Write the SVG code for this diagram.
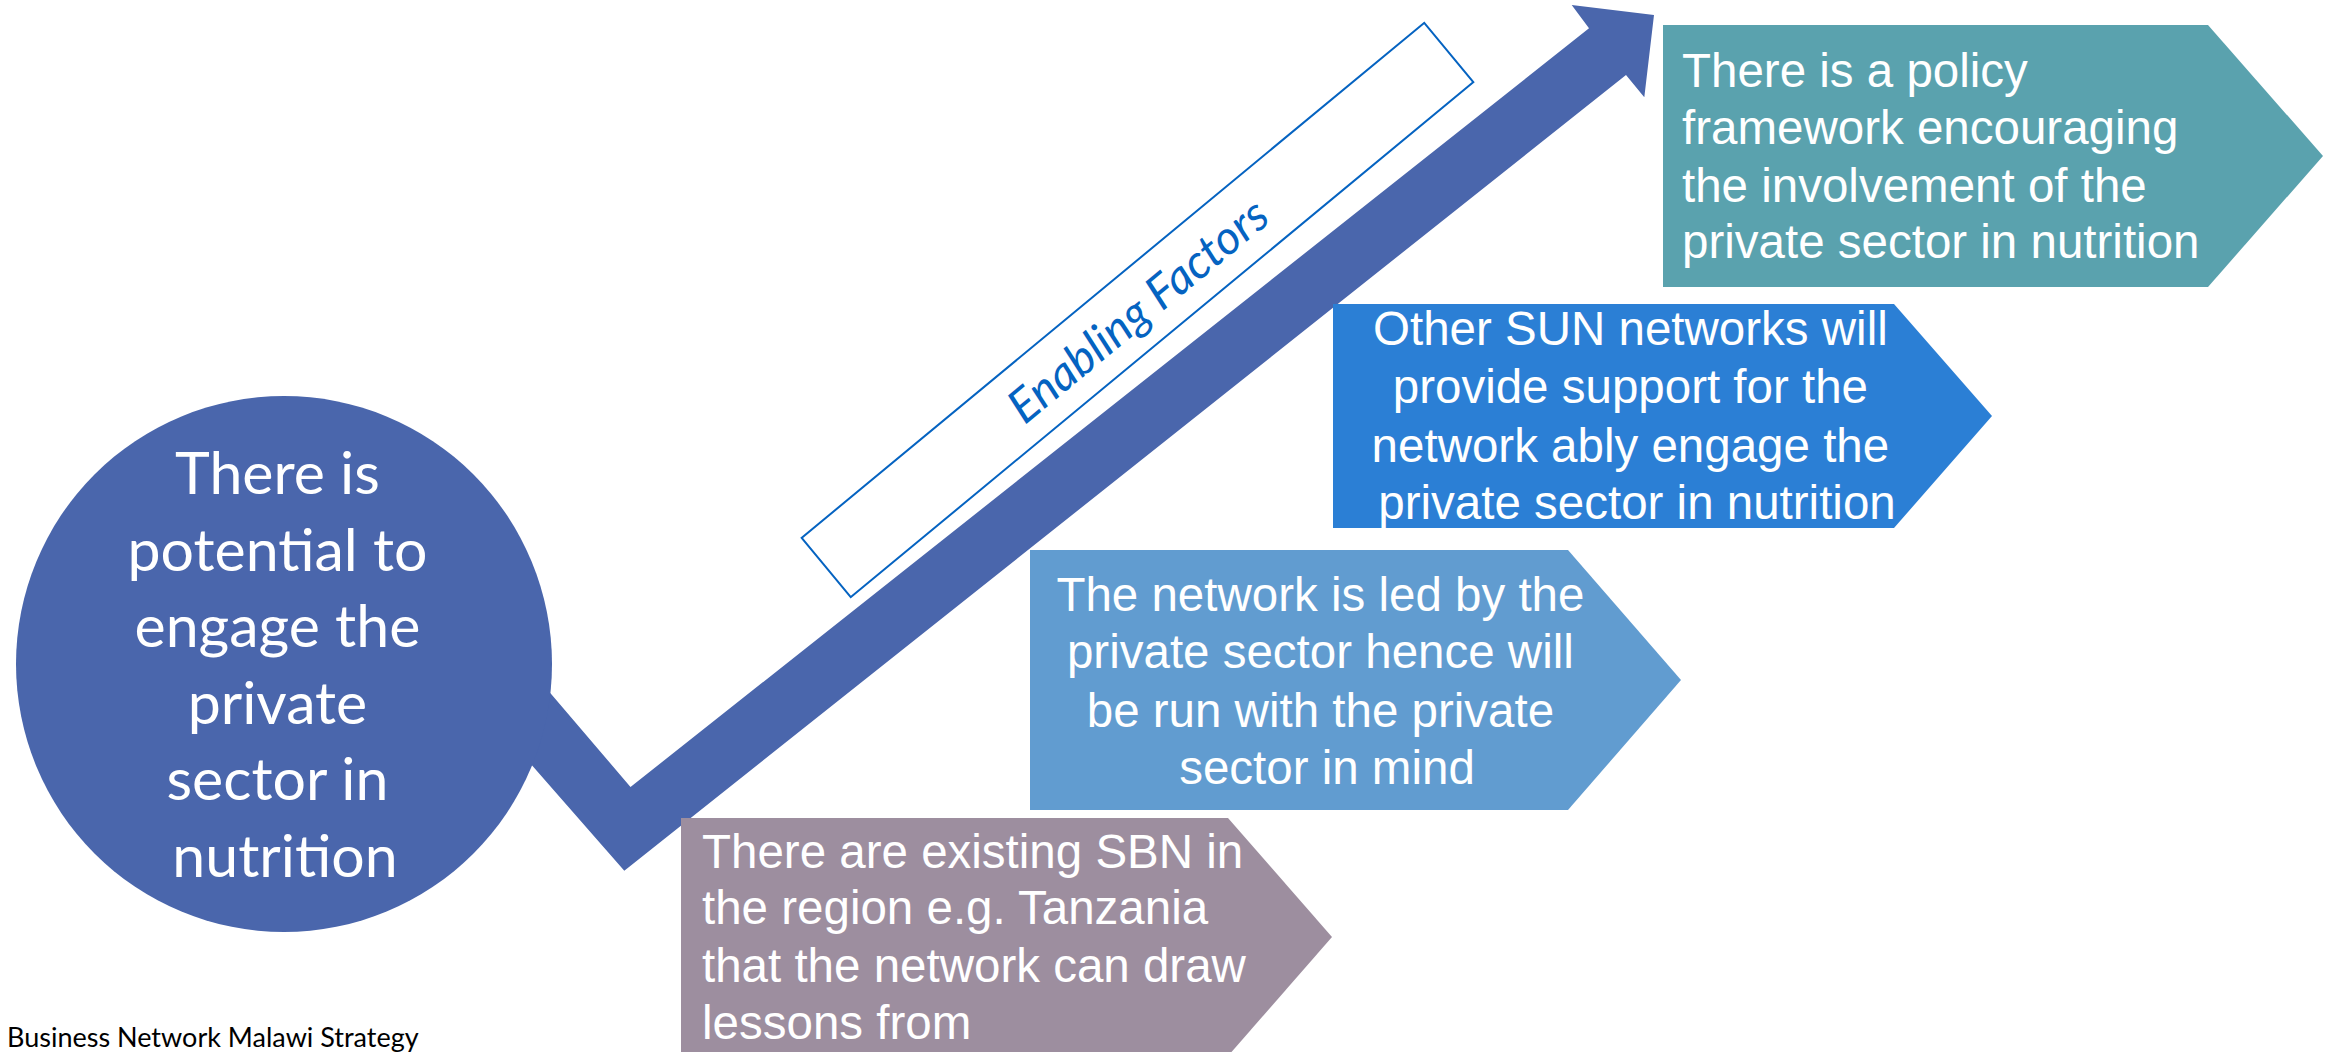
<svg xmlns="http://www.w3.org/2000/svg" width="2331" height="1052" viewBox="0 0 2331 1052">
  <style>
    .box-text { font-family: "Liberation Sans", Arial, sans-serif; font-size: 47.5px; fill: #ffffff; }
    .mid { text-anchor: middle; }
    .circle-text { font-family: Lato, "Noto Sans", sans-serif; font-size: 59px; fill: #ffffff; text-anchor: middle; }
    .label { font-family: Lato, "Noto Sans", sans-serif; font-style: italic; font-size: 47px; fill: #0563C1; text-anchor: middle; }
    .footer { font-family: Lato, "Noto Sans", sans-serif; font-size: 27px; fill: #000000; }
  </style>
  <rect width="2331" height="1052" fill="#ffffff"/>

  <g id="connectors">
    <polygon id="zigzag-arrow" fill="#4A66AC"
      points="500,634 630.5,787 1589,28.3 1571.7,5 1654,15 1644.3,97.3 1626,75 624.3,870.7 480,706"/>
  </g>

  <g id="node-potential">
    <circle cx="284" cy="664" r="268" fill="#4A66AC"/>
    <text class="circle-text">
      <tspan x="285" y="494">There is</tspan>
      <tspan x="285" y="570.6">potential to</tspan>
      <tspan x="285" y="647.2">engage the</tspan>
      <tspan x="285" y="723.8">private</tspan>
      <tspan x="285" y="800.4">sector in</tspan>
      <tspan x="285" y="877">nutrition</tspan>
    </text>
  </g>

  <g id="node-enabling-factors" transform="translate(1137.5,310) rotate(-39.6)">
    <rect x="-404" y="-38.5" width="808" height="77" fill="none" stroke="#0563C1" stroke-width="2"/>
    <text class="label" x="0" y="17">Enabling Factors</text>
  </g>

  <g id="node-existing-sbn">
    <polygon fill="#9D8E9F" points="681,818 1228,818 1332,937 1228,1056 681,1056"/>
    <text class="box-text">
      <tspan x="702" y="868">There are existing SBN in</tspan>
      <tspan x="702" y="924">the region e.g. Tanzania</tspan>
      <tspan x="702" y="981.5">that the network can draw</tspan>
      <tspan x="702" y="1039">lessons from</tspan>
    </text>
  </g>

  <g id="node-led-by-private">
    <polygon fill="#619CD0" points="1030,550 1568,550 1681,680 1568,810 1030,810"/>
    <text class="box-text mid">
      <tspan x="1327" y="611">The network is led by the</tspan>
      <tspan x="1327" y="668">private sector hence will</tspan>
      <tspan x="1327" y="726.5">be run with the private</tspan>
      <tspan x="1327" y="784">sector in mind</tspan>
    </text>
  </g>

  <g id="node-sun-networks">
    <polygon fill="#2B7FD5" points="1333,304 1894,304 1992,416 1894,528 1333,528"/>
    <text class="box-text mid">
      <tspan x="1637" y="345">Other SUN networks will</tspan>
      <tspan x="1637" y="403">provide support for the</tspan>
      <tspan x="1637" y="461.5">network ably engage the</tspan>
      <tspan x="1637" y="519">private sector in nutrition</tspan>
    </text>
  </g>

  <g id="node-policy">
    <polygon fill="#5AA2AE" points="1663,25 2208,25 2323,156 2208,287 1663,287"/>
    <text class="box-text">
      <tspan x="1682" y="87">There is a policy</tspan>
      <tspan x="1682" y="144">framework encouraging</tspan>
      <tspan x="1682" y="201.5">the involvement of the</tspan>
      <tspan x="1682" y="258">private sector in nutrition</tspan>
    </text>
  </g>

  <text id="footer" class="footer" x="7" y="1047">Business Network Malawi Strategy</text>
</svg>
